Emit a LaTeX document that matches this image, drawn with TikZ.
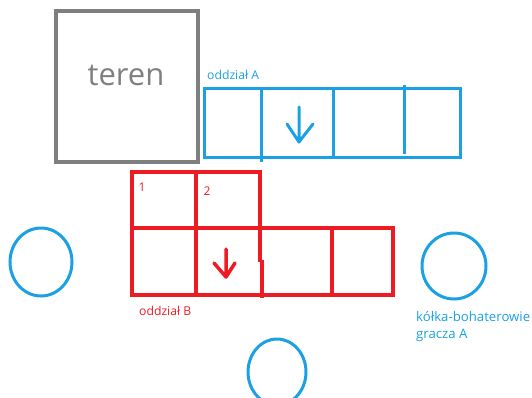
\documentclass[tikz,border=0pt]{standalone}
\usepackage{fontspec}
\setmainfont{Open Sans}
\definecolor{pblue}{HTML}{1BA1E2}
\definecolor{pred}{HTML}{ED1C24}
\definecolor{pgray}{HTML}{7F7F7F}
\begin{document}
\begin{tikzpicture}[x=1pt,y=-1pt,
  blueline/.style={draw=pblue,line width=3pt},
  redline/.style={draw=pred,line width=3.5pt},
  grayline/.style={draw=pgray,line width=3.2pt},
  lab/.style={font=\fontsize{12.2}{17}\selectfont,inner sep=0pt,anchor=west},
  numlab/.style={text=pred,font=\fontsize{12}{13}\selectfont,inner sep=0pt}]
\useasboundingbox (0,0) rectangle (532,397);
\clip (0,0) rectangle (532,397);
% terrain
\draw[grayline] (56,11) rectangle (198,162);
\node[text=pgray,font=\fontsize{31}{34}\selectfont,inner sep=0pt] (teren) at (126,75) {teren};
% oddzial A
\node[lab,text=pblue] (labA) at (207,75) {oddział A};
\draw[blueline] (204,88) rectangle (460,157);
\draw[blueline] (261,88) -- (261,162);
\draw[blueline] (333,88) -- (333,157);
\draw[blueline] (404,85) -- (404,154);
\draw[blueline,line cap=round,line join=round] (299,107) -- (299,142) (287,124) -- (299,142) -- (313,124);
% oddzial B
\draw[redline] (132,172) rectangle (260,228);
\draw[redline] (196,172) -- (196,228);
\draw[redline] (132,228) rectangle (393,295);
\draw[redline] (196,228) -- (196,295);
\draw[redline] (260,228) -- (260,262);
\draw[redline] (262,260) -- (262,298);
\draw[redline] (332,228) -- (332,295);
\draw[redline,line cap=round,line join=round] (226,249) -- (226,277) (214,263) -- (226,277) -- (235,263);
\node[numlab] (n1) at (142,187) {1};
\node[numlab] (n2) at (207,191) {2};
\node[lab,text=pred] (labB) at (139,311) {oddział B};
% heroes
\draw[blueline] (41,262) ellipse [x radius=31, y radius=34];
\draw[blueline] (454,266) ellipse [x radius=32, y radius=33];
\draw[blueline] (277,372) ellipse [x radius=29, y radius=33];
\node[lab,text=pblue,align=left,anchor=north west,font=\fontsize{13.2}{17.5}\selectfont] (labH) at (416,311) {kółka-bohaterowie\\gracza A};
\end{tikzpicture}
\end{document}
